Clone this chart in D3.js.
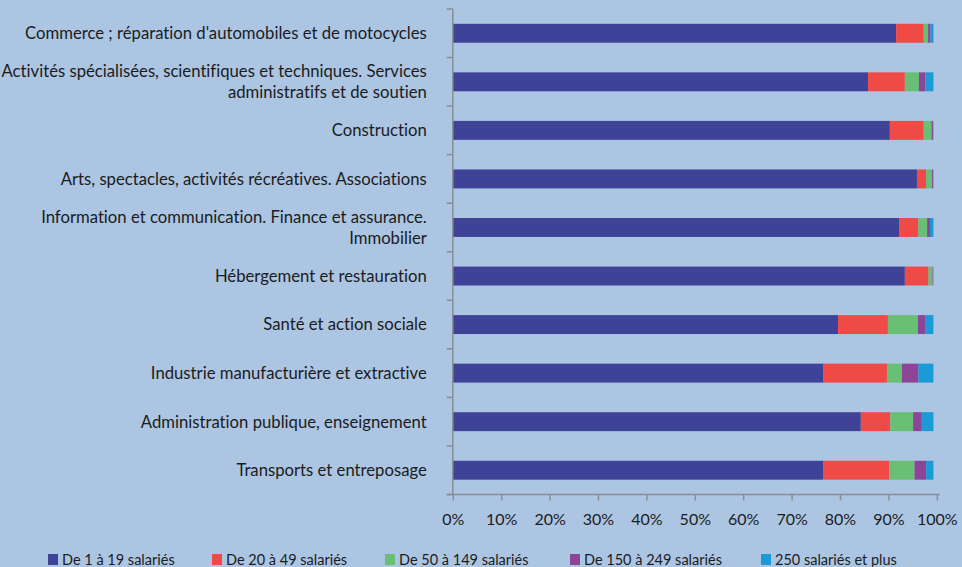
<!DOCTYPE html>
<html>
<head>
<meta charset="utf-8">
<script src="https://cdn.jsdelivr.net/npm/d3@7"></script>
<style>
  html, body { margin: 0; padding: 0; background: #abc5e3; }
  svg { display: block; }
  text { font-family: Lato, "Open Sans", sans-serif; fill: #1c1c1c; font-variant-ligatures: none; font-feature-settings: "liga" 0; }
</style>
</head>
<body>
<svg id="chart" width="962" height="567"></svg>
<script>
// ---- Data ----
const categories = [
  "Commerce ; réparation d'automobiles et de motocycles",
  "Activités spécialisées, scientifiques et techniques. Services|administratifs et de soutien",
  "Construction",
  "Arts, spectacles, activités récréatives. Associations",
  "Information et communication. Finance et assurance.|Immobilier",
  "Hébergement et restauration",
  "Santé et action sociale",
  "Industrie manufacturière et extractive",
  "Administration publique, enseignement",
  "Transports et entreposage"
];
const seriesNames = [
  "De 1 à 19 salariés",
  "De 20 à 49 salariés",
  "De 50 à 149 salariés",
  "De 150 à 249 salariés",
  "250 salariés et plus"
];
const s1_19    = [91.6, 85.8, 90.3, 95.9, 92.3, 93.4, 79.6, 76.6, 84.3, 76.5];
const s20_49   = [5.7, 7.6, 7.0, 1.9, 3.9, 4.9, 10.3, 13.1, 6.1, 13.7];
const s50_149  = [0.9, 2.9, 1.6, 1.2, 1.8, 0.8, 6.2, 3.1, 4.7, 5.2];
const s150_249 = [0.5, 1.3, 0.3, 0.2, 0.6, 0.1, 1.6, 3.4, 1.8, 2.4];
const s250plus = [0.6, 1.7, 0.1, 0.1, 0.7, 0.1, 1.6, 3.1, 2.4, 1.5];
const xTicks = [0, 10, 20, 30, 40, 50, 60, 70, 80, 90, 100];
const colors = ["#3e4398", "#f04a47", "#69bf74", "#8c4597", "#1b9ad6"];

// ---- Build table ----
const seriesValues = [s1_19, s20_49, s50_149, s150_249, s250plus];
const keys = seriesNames;
const table = categories.map((c, i) => {
  const row = { cat: c };
  keys.forEach((k, j) => row[k] = seriesValues[j][i]);
  return row;
});
const stacked = d3.stack().keys(keys)(table);

// ---- Layout ----
const svg = d3.select("#chart");
const plotLeft = 452.8, plotRight = 936.8, plotTop = 9, plotBottom = 494.5;

const x = d3.scaleLinear().domain([0, 100]).range([plotLeft, plotRight]);
const y = d3.scaleBand().domain(categories).range([plotTop, plotBottom])
  .paddingInner(0.61).paddingOuter(0.305);

const color = d3.scaleOrdinal().domain(keys).range(colors);

// bars
svg.append("g").selectAll("g")
  .data(stacked).join("g")
  .attr("fill", d => color(d.key))
  .selectAll("rect")
  .data(d => d).join("rect")
  .attr("x", d => x(d[0]))
  .attr("y", d => y(d.data.cat))
  .attr("width", d => Math.max(0, x(d[1]) - x(d[0])))
  .attr("height", y.bandwidth());

const axisColor = "#8a8d92";

// y axis line + ticks at band boundaries
const yAxisG = svg.append("g");
yAxisG.append("line")
  .attr("x1", plotLeft).attr("x2", plotLeft)
  .attr("y1", plotTop).attr("y2", plotBottom)
  .attr("stroke", axisColor).attr("stroke-width", 1.5);
const boundaries = d3.range(categories.length + 1).map(i => plotTop + i * y.step());
yAxisG.selectAll("line.tick").data(boundaries).join("line")
  .attr("class", "tick")
  .attr("x1", plotLeft - 6).attr("x2", plotLeft)
  .attr("y1", d => d).attr("y2", d => d)
  .attr("stroke", axisColor).attr("stroke-width", 1.5);

// category labels
const labelG = svg.append("g");
categories.forEach(c => {
  const lines = c.split("|");
  const cy = y(c) + y.bandwidth() / 2;
  const lh = 21;
  const t = labelG.append("text")
    .attr("text-anchor", "end")
    .attr("font-size", 16.7)
    .attr("x", plotLeft - 26);
  lines.forEach((ln, i) => {
    t.append("tspan")
      .attr("x", plotLeft - 26)
      .attr("y", cy + (i - (lines.length - 1) / 2) * lh)
      .attr("dy", "0.35em")
      .text(ln);
  });
});

// x axis
const xAxis = d3.axisBottom(x).tickValues(xTicks).tickFormat(d => d + "%")
  .tickSize(6).tickPadding(13).tickSizeOuter(0);
const xg = svg.append("g").attr("transform", `translate(0,${plotBottom})`).call(xAxis);
xg.select(".domain").attr("stroke", axisColor).attr("stroke-width", 1.5)
  .attr("d", `M${plotLeft - 6},0H${x(100) + 3}`);
xg.selectAll(".tick line").attr("stroke", axisColor).attr("stroke-width", 1.5);
xg.selectAll(".tick text").attr("font-size", 16).attr("fill", "#1c1c1c")
  .attr("font-family", "Lato, 'Open Sans', sans-serif");

// legend
const legendX = [48, 212, 385, 570, 761];
const legendY = 554;
const lg = svg.append("g");
keys.forEach((k, i) => {
  lg.append("rect").attr("x", legendX[i]).attr("y", legendY)
    .attr("width", 10).attr("height", 11).attr("fill", color(k));
  lg.append("text").attr("x", legendX[i] + 14).attr("y", legendY + 11)
    .attr("font-size", 14.5).text(k);
});
</script>
</body>
</html>
